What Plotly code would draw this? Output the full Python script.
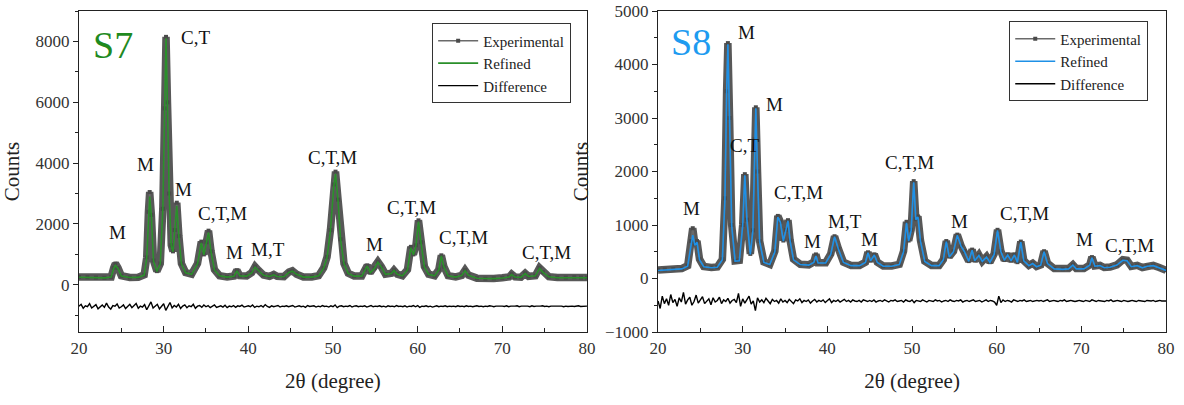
import numpy as np
import plotly.graph_objects as go

# ---------------- S7 pattern ----------------
s7_x = [20.0, 21.0, 22.0, 23.0, 23.8, 24.1, 24.3, 24.6, 25.0, 26.0, 27.0, 27.7, 28.0, 28.2, 28.35, 28.55,
        28.8, 29.2, 29.6, 29.9, 30.1, 30.28, 30.45, 30.65, 30.9, 31.1, 31.3, 31.55, 31.8, 32.1, 32.6, 33.3,
        34.0, 34.45, 34.75, 35.05, 35.3, 35.6, 36.0, 36.6, 37.5, 38.3, 38.65, 39.0, 39.8, 40.4, 40.8, 41.2,
        41.8, 42.5, 43.0, 43.4, 44.2, 44.8, 45.2, 45.7, 46.5, 47.5, 48.3, 48.9, 49.3, 49.7, 50.1, 50.3,
        50.6, 50.9, 51.3, 51.8, 52.5, 53.4, 53.8, 54.05, 54.4, 54.9, 55.3, 55.7, 56.2, 56.9, 57.2, 57.6,
        58.2, 58.8, 59.2, 59.5, 59.8, 60.1, 60.4, 60.8, 61.3, 62.0, 62.5, 62.8, 63.1, 63.6, 64.5, 65.2,
        65.6, 66.0, 67.0, 68.0, 69.0, 70.0, 70.8, 71.1, 71.5, 72.2, 72.7, 73.1, 73.9, 74.4, 74.8, 75.5,
        76.5, 77.5, 78.5, 79.3, 80.0]
s7_exp = [260, 250, 240, 230, 260, 560, 700, 560, 300, 240, 250, 330, 900, 2400, 3050, 2300,
          800, 450, 700, 2500, 5800, 8150, 6000, 3000, 1300, 1100, 1800, 2700, 1600, 700, 400, 350,
          700, 1420, 1000, 1400, 1780, 1100, 500, 300, 260, 290, 480, 300, 290, 400, 600, 480,
          320, 280, 340, 280, 270, 420, 460, 350, 260, 260, 300, 560, 920, 1800, 3300, 3720,
          2800, 1500, 700, 380, 290, 290, 500, 640, 400, 550, 760, 600, 350, 380, 480, 350,
          300, 500, 1250, 1000, 1300, 2120, 1400, 600, 350, 300, 500, 970, 600, 300, 260, 310,
          480, 320, 220, 200, 210, 230, 260, 350, 260, 250, 380, 280, 300, 560, 420, 270,
          240, 240, 250, 240, 240]
s7_ref = [250, 245, 235, 230, 255, 540, 640, 540, 290, 240, 245, 320, 880, 2300, 2900, 2250,
          780, 440, 690, 2450, 5700, 8100, 5900, 2950, 1280, 1090, 1760, 2600, 1560, 690, 395, 345,
          690, 1380, 990, 1370, 1720, 1080, 490, 300, 255, 285, 460, 295, 285, 395, 580, 470,
          315, 275, 330, 275, 265, 410, 450, 345, 255, 255, 295, 550, 900, 1780, 3250, 3650,
          2750, 1480, 690, 375, 285, 285, 490, 620, 395, 540, 740, 590, 345, 375, 470, 345,
          295, 490, 1220, 990, 1280, 2080, 1380, 590, 345, 295, 490, 950, 590, 295, 255, 305,
          470, 315, 215, 200, 205, 225, 255, 340, 255, 245, 370, 275, 295, 540, 410, 265,
          235, 235, 245, 235, 235]
s7_diff = [-700, -640, -770, -690, -720, -620, -760, -700, -650, -790, -710, -660, -740, -600, -730, -800, -680, -700, -630, -760,
           -720, -660, -780, -700, -640, -750, -690, -610, -770, -700, -730, -650, -820, -690, -560, -760, -700, -640, -790, -700,
           -620, -840, -700, -580, -760, -680, -730, -640, -780, -700, -660, -750, -690, -720, -640, -770, -700, -680, -740, -660,
           -720, -680, -750, -700, -660, -740, -710, -690, -730, -670, -750, -700, -720, -680, -740, -690, -710, -670, -730, -700,
           -690, -720, -660, -740, -700, -720, -680, -730, -650, -710, -740, -690, -720, -700, -680, -730, -700, -710, -690, -720,
           -700, -680, -730, -710, -690, -720, -700, -740, -680, -710, -700, -690, -730, -700, -720, -680, -710, -700, -730, -690,
           -720, -660, -750, -700, -690, -720, -700, -710, -680, -730, -700, -690, -720, -700, -710, -690, -730, -700, -680, -720,
           -700, -710, -690, -720, -700, -730, -690, -710, -700, -720, -680, -710, -700, -720, -690, -730, -700, -710, -680, -720,
           -680, -740, -700, -710, -690, -720, -700, -730, -700, -690, -720, -700, -710, -690, -720, -700, -710, -700, -720, -690,
           -710, -700, -720, -690, -710, -700, -720, -700, -690, -710, -700, -720, -700, -710, -690, -700, -720, -700, -710, -700,
           -700, -710, -690, -720, -700, -710, -700, -690, -720, -700, -710, -700, -700, -720, -690, -710, -700, -710, -700, -690,
           -710, -700, -720, -700, -700, -710, -690, -710, -700, -720, -700, -710, -700, -700, -710, -700, -690, -710, -700, -710,
           -700]

# ---------------- S8 pattern ----------------
s8_x = [20.0, 20.8, 21.8, 22.8, 23.5, 23.9, 24.1, 24.35, 24.6, 24.9, 25.4, 26.3, 27.0, 27.6, 27.9, 28.1,
        28.25, 28.45, 28.7, 29.1, 29.6, 30.0, 30.25, 30.5, 30.9, 31.2, 31.4, 31.55, 31.75, 32.0, 32.5, 33.2,
        33.8, 34.15, 34.45, 34.8, 35.1, 35.35, 35.6, 36.0, 36.8, 37.8, 38.4, 38.65, 38.9, 39.8, 40.4, 40.85,
        41.3, 41.9, 42.8, 43.8, 44.5, 44.8, 45.1, 45.55, 45.9, 46.6, 47.6, 48.5, 49.0, 49.35, 49.6, 49.9,
        50.2, 50.45, 50.7, 51.0, 51.5, 52.3, 53.2, 53.7, 54.05, 54.4, 54.9, 55.35, 55.8, 56.2, 56.7, 57.1,
        57.4, 57.9, 58.3, 58.8, 59.2, 59.7, 60.1, 60.5, 60.9, 61.3, 61.7, 62.1, 62.45, 62.85, 63.2, 63.8,
        64.25, 64.7, 65.2, 65.6, 66.0, 66.8, 67.8, 68.5, 69.0, 69.4, 70.3, 71.0, 71.25, 71.6, 72.2, 72.7,
        73.4, 74.2, 74.9, 75.4, 75.9, 76.6, 77.2, 77.8, 78.5, 79.2, 80.0]
s8_exp = [160, 170, 175, 185, 240, 700, 940, 650, 700, 360, 225, 205, 215, 360, 1500, 3500,
          4400, 3000, 1000, 330, 340, 1000, 1950, 1100, 460, 900, 2600, 3200, 2000, 700, 310, 265,
          510, 1170, 1060, 710, 910, 1090, 710, 360, 265, 255, 310, 450, 295, 295, 460, 790,
          560, 305, 245, 245, 305, 490, 335, 450, 305, 235, 235, 265, 510, 1060, 710, 910,
          1820, 1110, 1160, 710, 325, 245, 245, 355, 700, 410, 510, 820, 610, 510, 325, 540,
          335, 440, 325, 410, 305, 460, 910, 510, 345, 450, 335, 450, 305, 690, 335, 245,
          285, 225, 255, 510, 285, 185, 175, 185, 255, 185, 185, 255, 400, 235, 245, 205,
          215, 255, 350, 340, 225, 245, 205, 235, 245, 205, 155]
s8_ref = [150, 160, 170, 180, 230, 600, 810, 620, 680, 350, 220, 200, 210, 350, 1480, 3450,
          4380, 2950, 990, 325, 330, 990, 1930, 1090, 450, 890, 2580, 3180, 1980, 690, 300, 260,
          500, 1150, 1050, 700, 900, 1080, 700, 350, 260, 250, 300, 420, 290, 290, 450, 780,
          550, 300, 240, 240, 300, 480, 330, 440, 300, 230, 230, 260, 500, 1040, 700, 900,
          1800, 1100, 1150, 700, 320, 240, 240, 350, 690, 400, 500, 810, 600, 500, 320, 530,
          330, 430, 320, 400, 300, 450, 900, 500, 340, 440, 330, 440, 300, 680, 330, 240,
          280, 220, 250, 500, 280, 180, 170, 180, 250, 180, 180, 250, 390, 230, 240, 200,
          210, 250, 340, 330, 220, 240, 200, 230, 240, 200, 150]
s8_diff = [-420, -560, -330, -470, -380, -500, -300, -450, -390, -520, -360, -440, -260, -480, -400, -350, -500, -430, -310, -460,
           -400, -340, -470, -420, -380, -490, -360, -440, -410, -350, -470, -400, -430, -370, -460, -410, -390, -450, -280, -520,
           -380, -460, -400, -330, -480, -420, -600, -360, -440, -400, -450, -370, -420, -470, -390, -430, -410, -460, -380, -440,
           -410, -450, -390, -430, -470, -400, -420, -380, -450, -410, -430, -400, -460, -420, -390, -440, -410, -430, -400, -450,
           -420, -380, -450, -410, -430, -400, -440, -420, -390, -430, -410, -440, -400, -420, -430, -410, -440, -400, -420, -430,
           -410, -430, -400, -440, -420, -410, -430, -400, -420, -440, -410, -420, -400, -430, -420, -410, -440, -400, -420, -430,
           -400, -450, -410, -420, -430, -400, -420, -440, -410, -420, -430, -400, -420, -410, -440, -420, -410, -430, -400, -420,
           -430, -410, -420, -400, -440, -420, -410, -430, -420, -400, -430, -420, -410, -440, -420, -400, -430, -410, -420, -440,
           -500, -330, -450, -400, -430, -410, -420, -440, -400, -420, -430, -410, -420, -400, -430, -420, -410, -430, -420, -410,
           -420, -410, -430, -420, -400, -430, -420, -410, -420, -430, -410, -420, -400, -430, -420, -410, -420, -430, -420, -410,
           -420, -430, -410, -420, -430, -400, -420, -430, -410, -420, -420, -430, -410, -420, -400, -430, -420, -410, -420, -430,
           -410, -420, -430, -420, -410, -420, -430, -410, -420, -420, -430, -410, -420, -420, -410, -430, -420, -410, -420, -420,
           -420]

# ---------------- peak labels ----------------
s7_lab_text = ["C,T", "M", "M", "M", "C,T,M", "M", "M,T", "C,T,M", "M", "C,T,M", "C,T,M", "C,T,M"]
s7_lab_x = [33.8, 27.9, 32.3, 24.6, 37.0, 38.4, 42.3, 50.0, 54.9, 59.3, 65.4, 75.2]
s7_lab_y = [8130, 3970, 3120, 1710, 2360, 1050, 1150, 4170, 1310, 2530, 1570, 1050]

s8_lab_text = ["M", "M", "C,T", "C,T,M", "M", "M", "M,T", "M", "C,T,M", "M", "C,T,M", "M", "C,T,M"]
s8_lab_x = [30.5, 33.7, 30.2, 36.6, 24.0, 38.3, 42.1, 45.0, 49.7, 55.6, 63.3, 70.4, 75.7]
s8_lab_y = [4590, 3260, 2480, 1600, 1310, 700, 1060, 720, 2160, 1060, 1220, 720, 620]

FONT = "Liberation Serif, Times New Roman, serif"
GREEN = "#2a8f2a"
BLUE = "#1e90e6"

fig = go.Figure()


def add_panel(xa, ya, leg, x, exp, ref, diff, color):
    dx = np.linspace(20, 80, len(diff))
    fig.add_trace(go.Scatter(x=x, y=exp, xaxis=xa, yaxis=ya, mode="lines",
                             line=dict(color="#585858", width=7.5), showlegend=False,
                             hoverinfo="skip"))
    fig.add_trace(go.Scatter(x=x, y=exp, xaxis=xa, yaxis=ya, mode="lines+markers",
                             name="Experimental", legend=leg,
                             line=dict(color="#6a6a6a", width=1.5),
                             marker=dict(symbol="square", size=4, color="#4a4a4a")))
    fig.add_trace(go.Scatter(x=x, y=ref, xaxis=xa, yaxis=ya, mode="lines",
                             name="Refined", legend=leg,
                             line=dict(color=color, width=1.6)))
    fig.add_trace(go.Scatter(x=dx, y=diff, xaxis=xa, yaxis=ya, mode="lines",
                             name="Difference", legend=leg,
                             line=dict(color="black", width=1.4)))


add_panel("x", "y", "legend", s7_x, s7_exp, s7_ref, s7_diff, GREEN)
add_panel("x2", "y2", "legend2", s8_x, s8_exp, s8_ref, s8_diff, BLUE)

annotations = []
for t, x, y in zip(s7_lab_text, s7_lab_x, s7_lab_y):
    annotations.append(dict(text=t, x=x, y=y, xref="x", yref="y", showarrow=False,
                            font=dict(family=FONT, size=19, color="#111")))
for t, x, y in zip(s8_lab_text, s8_lab_x, s8_lab_y):
    annotations.append(dict(text=t, x=x, y=y, xref="x2", yref="y2", showarrow=False,
                            font=dict(family=FONT, size=19, color="#111")))
annotations.append(dict(text="S7", x=24.0, y=7870, xref="x", yref="y", showarrow=False,
                        font=dict(family=FONT, size=38, color="#1f8a1f")))
annotations.append(dict(text="S8", x=23.9, y=4420, xref="x2", yref="y2", showarrow=False,
                        font=dict(family=FONT, size=38, color="#1e9bf0")))

common_x = dict(range=[20, 80], dtick=10, tick0=20, ticks="inside", ticklen=6, tickwidth=1.2,
                tickcolor="#222", showline=True, linecolor="#222", linewidth=1.2, mirror=True,
                showgrid=False, zeroline=False, automargin=False,
                minor=dict(dtick=5, ticks="inside", ticklen=3.5, tickcolor="#222", tickwidth=1),
                tickfont=dict(family=FONT, size=17, color="#333"),
                title=dict(text="2θ (degree)", font=dict(family=FONT, size=21, color="#222"), standoff=16))
common_y = dict(ticks="outside", ticklen=5, tickwidth=1.2, tickcolor="#222", showline=True,
                linecolor="#222", linewidth=1.2, mirror=True, showgrid=False, zeroline=False,
                automargin=False,
                tickfont=dict(family=FONT, size=17, color="#333"),
                title=dict(text="Counts", font=dict(family=FONT, size=21, color="#222"), standoff=10))

legend_common = dict(bgcolor="white", bordercolor="#333", borderwidth=1.2,
                     font=dict(family=FONT, size=15, color="#222"), itemwidth=40,
                     xanchor="left", yanchor="top", tracegroupgap=0)

fig.update_layout(
    width=1184, height=405,
    margin=dict(l=79, r=18, t=11, b=73),
    paper_bgcolor="white", plot_bgcolor="white",
    showlegend=True,
    xaxis=dict(domain=[0, 0.4673], anchor="y", **common_x),
    xaxis2=dict(domain=[0.5327, 1], anchor="y2", **common_x),
    yaxis=dict(domain=[0, 1], anchor="x", range=[-1550, 9000], dtick=2000, tick0=0,
               minor=dict(dtick=1000, tick0=0, ticks="outside", ticklen=3, tickcolor="#222"),
               **common_y),
    yaxis2=dict(domain=[0, 1], anchor="x2", range=[-1000, 5000], dtick=1000, tick0=0,
                minor=dict(dtick=500, tick0=0, ticks="outside", ticklen=3, tickcolor="#222"),
                **common_y),
    legend=dict(x=0.3247, y=0.962, **legend_common),
    legend2=dict(x=0.8556, y=0.968, **legend_common),
    annotations=annotations,
)

fig.write_html("out.html", config={"displayModeBar": False},
               post_script="document.body.style.margin='0';document.body.style.overflow='hidden';")
